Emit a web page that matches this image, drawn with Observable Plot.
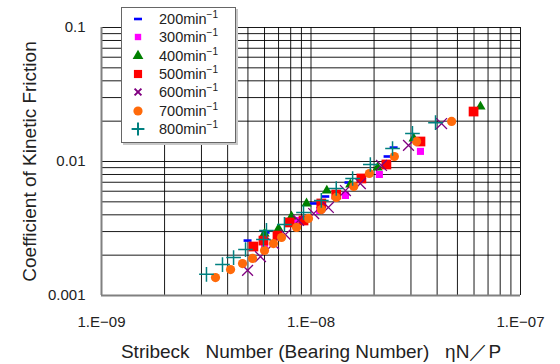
<!DOCTYPE html>
<html><head><meta charset="utf-8">
<script src="https://cdn.jsdelivr.net/npm/d3@7"></script>
<script src="https://cdn.jsdelivr.net/npm/@observablehq/plot@0.6"></script>
<style>
body{margin:0;background:#fff;font-family:"Liberation Sans",Arial,sans-serif;}
#wrap{position:relative;width:560px;height:364px;}
#legend{position:absolute;left:121px;top:7px;width:113px;height:134px;border:1.5px solid #666;background:#fff;box-shadow:2px 2px 0 #c8c8c8;}
.row{position:absolute;left:0;height:18px;width:113px;font-size:14.5px;color:#222;line-height:18px;}
.row svg{position:absolute;left:6px;top:0;}
.row span{position:absolute;left:37px;top:0;white-space:nowrap;}
.row sup{font-size:10px;vertical-align:0;position:relative;top:-6px;}
svg [aria-label="x-axis label"] text, svg [aria-label="y-axis label"] text{font-size:19px;}
</style></head><body>
<div id="wrap"><div id="legend"></div></div>
<script>
const seriesNames = ["200","300","400","500","600","700","800"];
// Stribeck number (x) and friction coefficient (y) per rotational speed
const x200 = [4.98e-9,6.07e-9,7.90e-9,1.03e-8,1.17e-8,1.51e-8,2.32e-8,2.48e-8];
const y200 = [0.00257,0.00295,0.00345,0.00486,0.00548,0.00697,0.0109,0.0127];
const x300 = [6.00e-9,8.53e-9,1.10e-8,1.46e-8,2.12e-8,3.33e-8];
const y300 = [0.00240,0.00363,0.00431,0.00558,0.0080,0.0119];
const x400 = [6.00e-9,7.00e-9,8.07e-9,9.52e-9,1.19e-8,1.54e-8,2.08e-8,3.09e-8,6.44e-8];
const y400 = [0.00290,0.00316,0.00389,0.00486,0.00607,0.00674,0.00902,0.01485,0.0257];
const x500 = [5.31e-9,5.93e-9,6.92e-9,7.90e-9,9.21e-9,1.12e-8,1.32e-8,1.74e-8,2.29e-8,3.33e-8,5.97e-8];
const y500 = [0.00232,0.00257,0.00280,0.00351,0.00363,0.00486,0.00567,0.00747,0.0095,0.0141,0.0236];
const x600 = [4.98e-9,5.74e-9,6.62e-9,7.55e-9,8.72e-9,1.03e-8,1.21e-8,1.46e-8,1.72e-8,2.17e-8,2.92e-8,4.20e-8];
const y600 = [0.00154,0.00195,0.00244,0.00285,0.00363,0.00409,0.00454,0.00607,0.00685,0.00934,0.0132,0.0192];
const x700 = [3.50e-9,4.13e-9,4.71e-9,5.26e-9,6.00e-9,6.62e-9,7.23e-9,8.53e-9,9.73e-9,1.12e-8,1.32e-8,1.60e-8,1.90e-8,2.50e-8,3.19e-8,4.69e-8];
const y700 = [0.00136,0.00156,0.00173,0.00189,0.00217,0.00244,0.00271,0.00322,0.00376,0.00438,0.00539,0.00651,0.00814,0.0109,0.0141,0.0199];
const x800 = [3.17e-9,3.78e-9,4.27e-9,4.87e-9,5.93e-9,6.13e-9,7.47e-9,9.21e-9,1.12e-8,1.32e-8,1.58e-8,1.92e-8,2.45e-8,3.05e-8,3.93e-8];
const y800 = [0.00144,0.00170,0.00192,0.00220,0.00262,0.00306,0.00339,0.00416,0.00512,0.00629,0.00747,0.0095,0.0125,0.0162,0.0195];
const xTickValues = [1e-9,1e-8,1e-7];
const xTickLabels = ["1.E\u221209","1.E\u221208","1.E\u221207"];
const yTickValues = [0.001,0.01,0.1];
const yTickLabels = ["0.001","0.01","0.1"];
const xTitle = "Stribeck\u00a0\u00a0\u00a0Number (Bearing Number)\u00a0\u00a0\u00a0\u03b7N\uff0fP";
const yTitle = "Coefficient of Kinetic Friction";

const xs = [x200,x300,x400,x500,x600,x700,x800];
const ys = [y200,y300,y400,y500,y600,y700,y800];
const colors = ["#0000ff","#ff00ff","#008000","#ff0000","#800080","#ff6a0a","#008080"];
const dash = {draw(ctx, size){const w = Math.sqrt(size)*0.5; ctx.moveTo(-w,0); ctx.lineTo(w,0);}};
const symbols = [dash,"square","triangle","square","times","circle","plus"];
const radii = [4.5,4,3.8,5.5,5,4.6,4.8];
const stroked = [true,false,false,false,true,false,true];
const strokeW = [2.6,0,0,0,1.3,0,1.5];

const tables = xs.map((xa,i)=>xa.map((x,j)=>({x, y: ys[i][j], s: seriesNames[i]})));
const gridX = d3.scaleLog().domain([1e-9,1e-7]).ticks();
const gridY = d3.scaleLog().domain([0.001,0.1]).ticks();

const plot = Plot.plot({
  width: 560, height: 364,
  marginLeft: 101, marginRight: 40, marginTop: 27, marginBottom: 69,
  style: {fontFamily: "'Liberation Sans', Arial, sans-serif", fontSize: "15px", color: "#222", background: "#fff"},
  x: {type: "log", domain: [1e-9,1e-7]},
  y: {type: "log", domain: [0.001,0.1]},
  marks: [
    Plot.ruleX(gridX, {stroke: "#000", strokeWidth: 1, strokeOpacity: 0.9}),
    Plot.ruleY(gridY, {stroke: "#000", strokeWidth: 1, strokeOpacity: 0.9}),
    Plot.ruleX([1e-9], {stroke: "#808080", strokeWidth: 2}),
    Plot.ruleY([0.001], {stroke: "#808080", strokeWidth: 2}),
    Plot.axisX({ticks: xTickValues, tickFormat: (d,i)=>xTickLabels[xTickValues.indexOf(d)], tickSize: 0, tickPadding: 21,
      label: xTitle, labelAnchor: "center", labelArrow: "none", labelOffset: 62}),
    Plot.axisY({ticks: yTickValues, tickFormat: d=>yTickLabels[yTickValues.indexOf(d)], tickSize: 0, tickPadding: 16,
      label: yTitle, labelAnchor: "center", labelArrow: "none", labelOffset: 79}),
    ...tables.map((t,i)=> stroked[i]
      ? Plot.dot(t, {x: "x", y: "y", symbol: symbols[i], r: radii[i], stroke: colors[i], strokeWidth: strokeW[i], fill: "none"})
      : Plot.dot(t, {x: "x", y: "y", symbol: symbols[i], r: radii[i], fill: colors[i], stroke: "none"}))
  ]
});
document.getElementById("wrap").prepend(plot);

// legend
const legend = document.getElementById("legend");
seriesNames.forEach((name,i)=>{
  const row = document.createElement("div");
  row.className = "row";
  row.style.top = (2 + i*18.3) + "px";
  const sym = d3.symbol().type(typeof symbols[i]==="string" ? {square:d3.symbolSquare,triangle:d3.symbolTriangle,times:d3.symbolTimes,circle:d3.symbolCircle,plus:d3.symbolPlus}[symbols[i]] : symbols[i]);
  const legR = [4.5,3.6,4,4.6,3.2,4.6,4.2][i];
  sym.size(Math.PI*legR*legR);
  const sv = d3.create("svg").attr("width",20).attr("height",18);
  sv.append("path").attr("transform","translate(10,9)").attr("d",sym())
    .attr("fill", stroked[i] ? "none" : colors[i])
    .attr("stroke", stroked[i] ? colors[i] : "none")
    .attr("stroke-width", i===4 ? 2 : (i===6 ? 2 : strokeW[i]));
  row.appendChild(sv.node());
  const sp = document.createElement("span");
  sp.innerHTML = name + "min<sup>\u22121</sup>";
  row.appendChild(sp);
  legend.appendChild(row);
});
</script>
</body></html>
